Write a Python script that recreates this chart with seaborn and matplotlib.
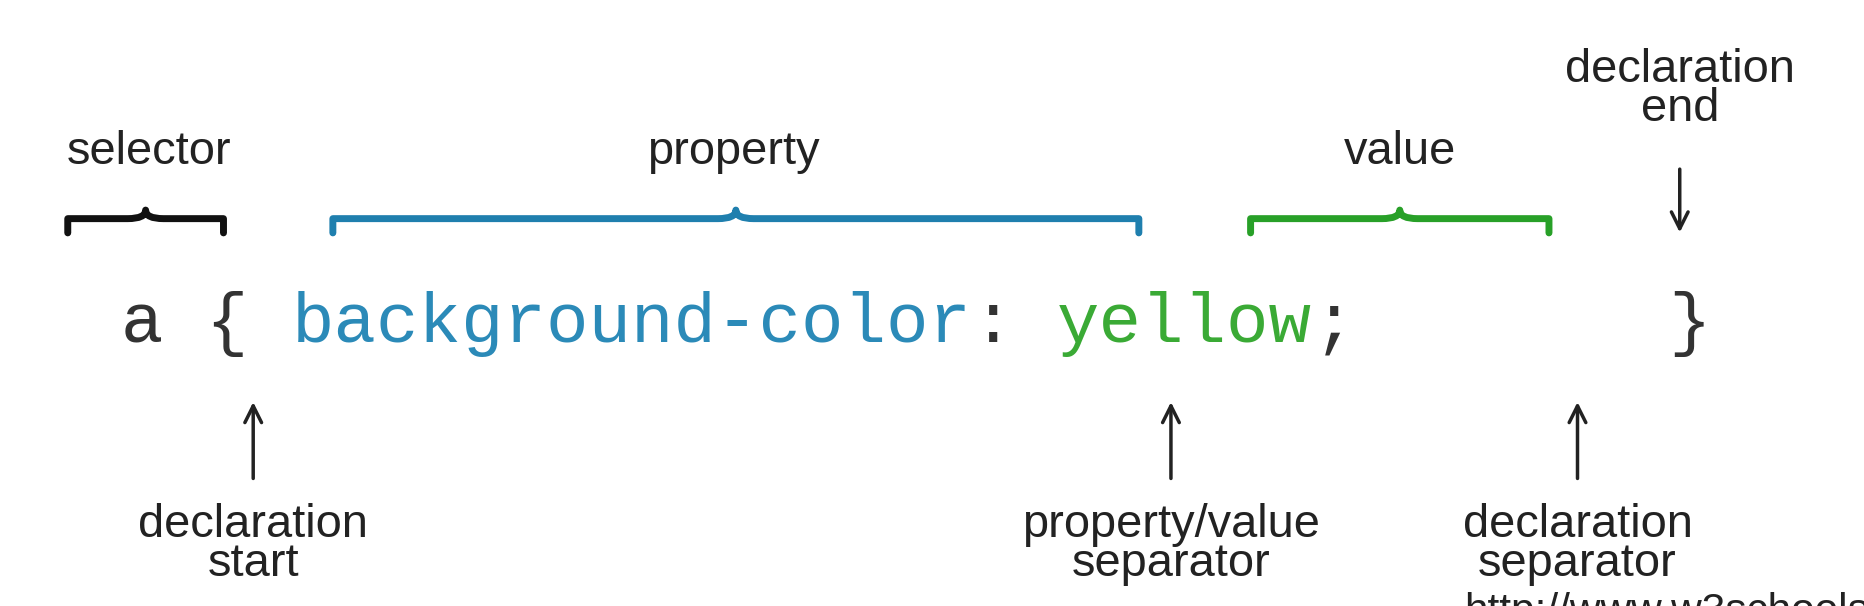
import matplotlib
matplotlib.use("Agg")
import matplotlib.pyplot as plt
import seaborn as sns
from matplotlib.path import Path
from matplotlib.patches import PathPatch

sns.set_theme(style="white")
plt.rcParams['font.family'] = ['Liberation Sans', 'DejaVu Sans']

# code segments: (text, colour)
code_parts = [("a { ", "#333333"), ("background-color", "#2b8ab8"), (": ", "#333333"),
              ("yellow", "#3aaa35"), (";", "#333333")]
top_labels = ["selector", "property", "value"]
top_label_x = [125, 617, 1178]
brace_spans = [(57, 188), (280, 958), (1052, 1303)]
brace_colors = ["#111111", "#1f7fae", "#28a028"]
bottom_labels = ["declaration\nstart", "property/value\nseparator", "declaration\nseparator"]
bottom_x = [213, 985, 1327]

S = 1864 / 1568
fig = plt.figure(figsize=(18.64, 6.06), dpi=100)
ax = fig.add_axes([0, 0, 1, 1])
ax.set_xlim(0, 1568)
ax.set_ylim(510, 0)
ax.axis("off")

cw = 42.6 * 0.84
x = 102
for txt, col in code_parts:
    ax.text(x, 273, txt, family="Liberation Mono", fontsize=51 * 0.84 * S, color=col,
            va="center", ha="left")
    x += cw * len(txt)
ax.text(1403, 273, "}", family="Liberation Mono", fontsize=51 * 0.84 * S,
        color="#333333", va="center", ha="left")

def brace(x0, x1, y, h, color):
    m = (x0 + x1) / 2
    verts = [(x0, y + h), (x0, y), (x0, y), (x0 + 15, y),
             (m - 15, y), (m, y), (m, y - h * 0.6),
             (m, y), (m + 15, y), (x1 - 15, y),
             (x1, y), (x1, y), (x1, y + h)]
    codes = [Path.MOVETO, Path.CURVE3, Path.CURVE3, Path.LINETO,
             Path.LINETO, Path.CURVE3, Path.CURVE3,
             Path.CURVE3, Path.CURVE3, Path.LINETO,
             Path.LINETO, Path.CURVE3, Path.CURVE3]
    ax.add_patch(PathPatch(Path(verts, codes), fill=False, lw=5, ec=color,
                           capstyle="round", joinstyle="round"))

for (a, b), c in zip(brace_spans, brace_colors):
    brace(a, b, 184, 12, c)

fs = 30 * S * 0.95
for lab, lx in zip(top_labels, top_label_x):
    ax.text(lx, 128, lab, fontsize=fs, color="#222222", ha="center", va="center")

ax.text(1413, 75, "declaration\nend", fontsize=fs, color="#222222", ha="center",
        va="center", linespacing=0.85)
ax.annotate("", xy=(1413, 198), xytext=(1413, 140),
            arrowprops=dict(arrowstyle="->", lw=2.5, color="#222222", mutation_scale=30))

for lab, lx in zip(bottom_labels, bottom_x):
    ax.annotate("", xy=(lx, 336), xytext=(lx, 405),
                arrowprops=dict(arrowstyle="->", lw=2.5, color="#222222", mutation_scale=30))
    ax.text(lx, 458, lab, fontsize=fs, color="#222222", ha="center", va="center",
            linespacing=0.85)

ax.text(1232, 515, "http://www.w3schools.com", fontsize=fs * 0.9, color="#222222",
        ha="left", va="center")

fig.savefig("out.png", dpi=100)
